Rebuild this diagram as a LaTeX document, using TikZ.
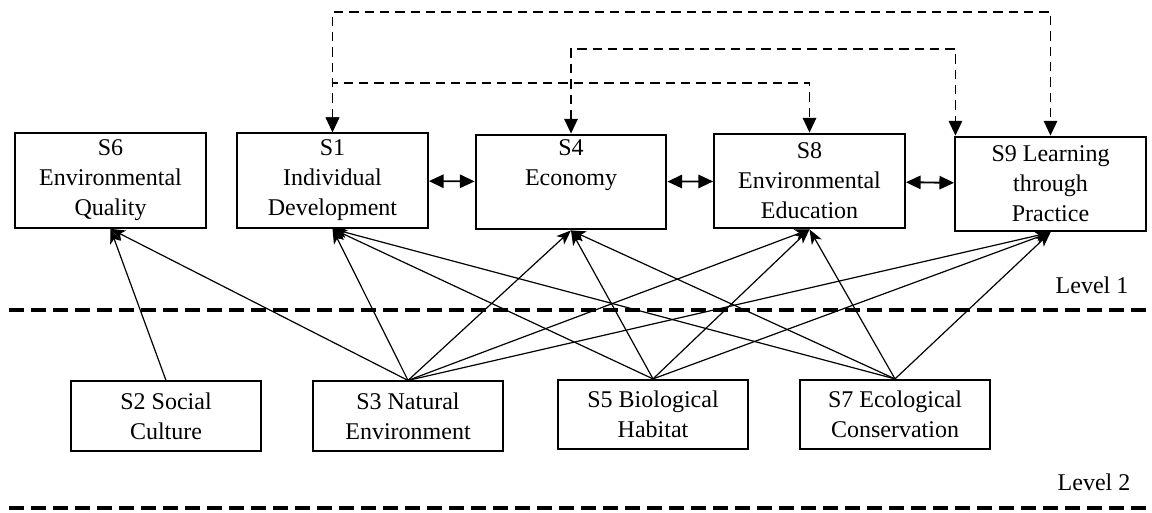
\documentclass[tikz,border=0pt]{standalone}
\usepackage{fontspec}
\setmainfont{Liberation Serif}
\usepackage{tikz}
\usetikzlibrary{arrows.meta,positioning,calc}

\begin{document}
\begin{tikzpicture}[x=0.75pt,y=-0.75pt,
    every node/.style={font=\fontsize{18}{22.5}\selectfont},
    topfactor/.style={draw, line width=1.6pt, align=center, inner sep=1pt,
          minimum width=143pt, minimum height=71pt},
    basefactor/.style={draw, line width=1.4pt, align=center, inner sep=1pt,
          minimum width=143pt, minimum height=52pt},
    influence/.style={line width=0.9pt, -{Stealth[length=11pt,width=8.5pt,inset=3pt]}},
    mutual/.style={line width=1.4pt, {Triangle[length=11pt,width=10pt]}-{Triangle[length=11pt,width=10pt]}},
    feedback/.style={line width=1.3pt, dash pattern=on 7pt off 4.5pt,
          {Triangle[length=11pt,width=10pt]}-{Triangle[length=11pt,width=10pt]}},
    levelline/.style={line width=3pt, dash pattern=on 11pt off 5.5pt}]
    \useasboundingbox (0,0) rectangle (1152,512);

    % level 1 factors
    \node[topfactor] (s6) at (110.5,180.5) {S6\\Environmental\\Quality};
    \node[topfactor] (s1) at (332.5,180.5) {S1\\Individual\\Development};
    \node[topfactor] (s4) at (571,182) {S4\\Economy\\\strut};
    \node[topfactor] (s8) at (809.5,181) {S8\\Environmental\\Education};
    \node[topfactor] (s9) at (1050.5,184) {S9 Learning\\through\\Practice};

    % level 2 factors
    \node[basefactor] (s2) at (166,416) {S2 Social\\Culture};
    \node[basefactor] (s3) at (408,416) {S3 Natural\\Environment};
    \node[basefactor] (s5) at (653,414.5) {S5 Biological\\Habitat};
    \node[basefactor] (s7) at (895,414.5) {S7 Ecological\\Conservation};

    % level separators
    \draw[levelline] (9,310) -- (1152,310);
    \draw[levelline] (9,508) -- (1152,508);
    \node (lev1) at (1092,285) {Level 1};
    \node (lev2) at (1094,482) {Level 2};

    % mutual links within level 1
    \draw[mutual] (s1) -- (s4);
    \draw[mutual] (s4) -- (s8);
    \draw[mutual] (s8) -- (s9);

    % feedback loops above
    \draw[feedback] (s1.north) -- (s1.north |- 0,12) -| (s9.north);
    \draw[feedback] (s4.north) -- (s4.north |- 0,49) -| ([xshift=1pt]s9.north west);
    \draw[feedback] (s1.north) -- (s1.north |- 0,83) -| (s8.north);

    % influences from level 2
    \draw[influence] (s2.north) -- (s6.south);
    \foreach \t in {s6,s1,s4,s8,s9}
        \draw[influence] (s3.north) -- (\t.south);
    \foreach \t in {s1,s4,s8,s9}
        \draw[influence] (s5.north) -- (\t.south);
    \foreach \t in {s1,s4,s8,s9}
        \draw[influence] (s7.north) -- (\t.south);
\end{tikzpicture}
\end{document}
